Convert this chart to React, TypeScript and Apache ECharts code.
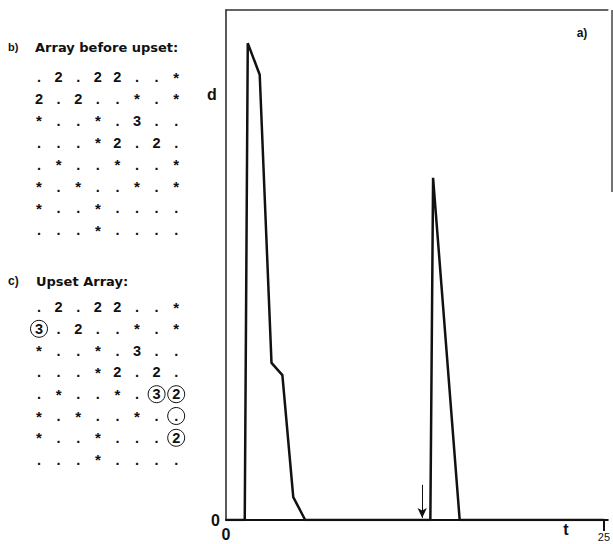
import React, { useEffect, useRef } from "react";
import * as echarts from "echarts";

// time values (t) and amplitude (d)
const tValues = [0, 1.24, 1.44, 2.23, 3.01, 3.73, 4.45, 5.24, 13.52, 13.7, 15.46, 25];
const dValues = [0, 0, 93.5, 87.3, 30.8, 28.4, 4.5, 0, 0, 67.1, 0, 0];
const xTickLabels = [0, 25];
const yTickLabels = [0];
const arrowT = 12.98;
const arrowFrom = 6.9;
const arrowTo = 0.4;

// arrays shown at the left
const arrayBefore = [
  ". 2 . 2 2 . . *",
  "2 . 2 . . * . *",
  "* . . * . 3 . .",
  ". . . * 2 . 2 .",
  ". * . . * . . *",
  "* . * . . * . *",
  "* . . * . . . .",
  ". . . * . . . .",
];
const arrayUpset = [
  ". 2 . 2 2 . . *",
  "3 . 2 . . * . *",
  "* . . * . 3 . .",
  ". . . * 2 . 2 .",
  ". * . . * . 3 2",
  "* . * . . * . .",
  "* . . * . . . 2",
  ". . . * . . . .",
];
// circled cells [row, col] in the upset array
const circledCells = [
  [1, 0],
  [4, 6],
  [4, 7],
  [5, 7],
  [6, 7],
];

const FONT = '"Liberation Sans", Arial, Helvetica, sans-serif';
const WIDE = '"DejaVu Sans", Verdana, sans-serif';

function buildArrayGraphics(rows: string[], top: number, rowDy: number, circles: number[][]) {
  const els: any[] = [];
  const colX0 = 39;
  const colDx = 19.6;
  rows.forEach((row, r) => {
    const cells = row.split(" ");
    cells.forEach((ch, c) => {
      els.push({
        type: "text",
        x: colX0 + c * colDx,
        y: top + r * rowDy,
        silent: true,
        style: {
          text: ch,
          align: "center",
          verticalAlign: "middle",
          fontFamily: FONT,
          fontWeight: "bold",
          fontSize: ch === "*" ? 15 : 14.5,
          fill: "#111",
        },
      });
    });
  });
  circles.forEach(([r, c]) => {
    els.push({
      type: "circle",
      silent: true,
      shape: { cx: colX0 + c * colDx, cy: top + r * rowDy, r: 8.5 },
      style: { fill: "none", stroke: "#111", lineWidth: 1 },
    });
  });
  return els;
}

export default function App() {
  const ref = useRef<HTMLDivElement>(null);
  useEffect(() => {
    if (!ref.current) return;
    const chart = echarts.init(ref.current, null, { renderer: "svg" });
    const data = tValues.map((t, i) => [t, dValues[i]]);
    const graphics: any[] = [
      {
        type: "text",
        x: 8,
        y: 47,
        style: { text: "b)", verticalAlign: "middle", fontFamily: FONT, fontWeight: "bold", fontSize: 11, fill: "#111" },
      },
      {
        type: "text",
        x: 35,
        y: 47,
        style: { text: "Array before upset:", verticalAlign: "middle", fontFamily: WIDE, fontWeight: "bold", fontSize: 13, fill: "#111" },
      },
      {
        type: "text",
        x: 8,
        y: 281,
        style: { text: "c)", verticalAlign: "middle", fontFamily: FONT, fontWeight: "bold", fontSize: 12, fill: "#111" },
      },
      {
        type: "text",
        x: 36,
        y: 281,
        style: { text: "Upset Array:", verticalAlign: "middle", fontFamily: WIDE, fontWeight: "bold", fontSize: 13, fill: "#111" },
      },
      ...buildArrayGraphics(arrayBefore, 77, 21.9, []),
      ...buildArrayGraphics(arrayUpset, 307, 21.8, circledCells),
      {
        type: "text",
        x: 212,
        y: 94,
        style: { text: "d", align: "center", verticalAlign: "middle", fontFamily: FONT, fontWeight: "bold", fontSize: 16, fill: "#111" },
      },
      {
        type: "text",
        x: 566,
        y: 529,
        style: { text: "t", align: "center", verticalAlign: "middle", fontFamily: FONT, fontWeight: "bold", fontSize: 16, fill: "#111" },
      },
      {
        type: "text",
        x: 582,
        y: 33,
        style: { text: "a)", align: "center", verticalAlign: "middle", fontFamily: FONT, fontWeight: "bold", fontSize: 12, fill: "#111" },
      },
      {
        type: "line",
        shape: { x1: 612, y1: 10, x2: 612, y2: 192 },
        style: { stroke: "#444", lineWidth: 1.5 },
      },
    ];
    chart.setOption({
      animation: false,
      backgroundColor: "#fff",
      grid: { left: 226, right: 1, top: 10, bottom: 24 },
      xAxis: [
        {
          type: "value",
          min: 0,
          max: 25.26,
          position: "bottom",
          axisLine: { show: true, lineStyle: { color: "#111", width: 2 } },
          axisTick: {
            show: true,
            customValues: [25],
            length: 11,
            inside: false,
            lineStyle: { color: "#111", width: 2 },
          },
          axisLabel: {
            show: true,
            customValues: xTickLabels,
            margin: 6,
            formatter: (v: number) => (v === 0 ? "{a|0}" : "{b|" + v + "}"),
            rich: {
              a: { fontFamily: FONT, fontWeight: "bold", fontSize: 16, color: "#111" },
              b: { fontFamily: FONT, fontSize: 11, color: "#111", padding: [5, 0, 0, 0] },
            },
          },
          splitLine: { show: false },
        },
        {
          type: "value",
          min: 0,
          max: 25.26,
          position: "top",
          axisLine: { show: true, lineStyle: { color: "#333", width: 1.5 } },
          axisTick: { show: false },
          axisLabel: { show: false },
          splitLine: { show: false },
        },
      ],
      yAxis: {
        type: "value",
        min: 0,
        max: 100,
        axisLine: { show: true, lineStyle: { color: "#222", width: 1.5 } },
        axisTick: { show: false },
        splitLine: { show: false },
        axisLabel: {
          show: true,
          customValues: yTickLabels,
          margin: 6,
          fontFamily: FONT,
          fontWeight: "bold",
          fontSize: 16,
          color: "#111",
        },
      },
      graphic: graphics,
      series: [
        {
          type: "line",
          xAxisIndex: 0,
          data,
          symbol: "none",
          lineStyle: { color: "#111", width: 2.5 },
          itemStyle: { color: "#111" },
          silent: true,
          markLine: {
            silent: true,
            symbol: ["none", "arrow"],
            symbolSize: [7, 10],
            label: { show: false },
            lineStyle: { color: "#111", width: 1, type: "solid" },
            data: [[{ coord: [arrowT, arrowFrom] }, { coord: [arrowT, arrowTo] }]],
          },
        },
      ],
    });
    return () => chart.dispose();
  }, []);
  return <div ref={ref} style={{ width: 613, height: 544, position: "absolute", left: 0, top: 0 }} />;
}
